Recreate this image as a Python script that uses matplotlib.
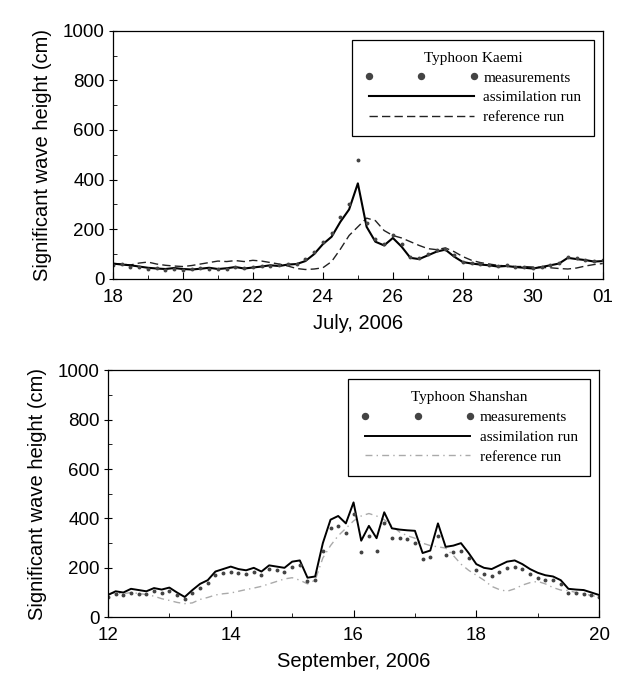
# %% imports

import numpy as np
import matplotlib
matplotlib.use('Agg')
import matplotlib.pyplot as plt
from matplotlib.ticker import MultipleLocator, FixedLocator

# %% data

# Typhoon Kaemi, July 2006, 6-hourly values from day 18 to 32 (= Aug 01)
kaemi_day = np.arange(18, 32.01, 0.25)
kaemi_assim = [62, 58, 55, 50,  45, 42, 40, 44,  40, 38, 41, 45,  40, 43, 48, 42,
               46, 50, 55, 52,  58, 60, 72, 100,  140, 170, 230, 280,
               385, 210, 150, 135,  165, 130, 85, 80,  95, 110, 118, 90,
               68, 62, 58, 55,  50, 52, 48, 45,  42, 48, 55, 62,  85, 80, 76, 70,  72]
kaemi_ref = [62, 60, 56, 64,  68, 60, 55, 52,  50, 54, 60, 66,  72, 70, 74, 70,
             75, 72, 66, 60,  52, 42, 38, 40,  45, 70, 120, 175,
             210, 245, 235, 195,  175, 165, 150, 135,  122, 118, 125, 110,
             90, 75, 66, 60,  55, 52, 50, 50,  48, 46, 45, 42,  40, 44, 52, 58,  62]
kaemi_meas = [55, 60, 50, 48,  42, 45, 38, 42,  38, 40, 44, 42,  42, 40, 50, 45,
              48, 52, 52, 55,  60, 62, 80, 110,  150, 185, 250, 300,
              480, 225, 160, 140,  175, 140, 90, 85,  100, 115, 122, 95,
              70, 65, 60, 58,  52, 55, 50, 48,  45, 50, 58, 65,  90, 85, 78, 72,  75]
kaemi_ticks = [18, 20, 22, 24, 26, 28, 30, 32]
kaemi_labels = ['18', '20', '22', '24', '26', '28', '30', '01']

# Typhoon Shanshan, September 2006, 3-hourly values from day 12 to 20
shan_day = np.arange(12, 20.001, 0.125)
shan_assim = [90, 105, 100, 115, 110, 105, 118, 112,
              120, 100, 82, 110, 135, 150, 185, 195,
              205, 195, 190, 200, 185, 210, 205, 200,
              225, 230, 160, 165, 300, 395, 410, 380,
              465, 310, 370, 320, 425, 360, 355, 352,
              350, 260, 270, 380, 285, 290, 300, 260,
              215, 200, 195, 210, 225, 230, 215, 195,
              180, 170, 165, 150, 115, 112, 110, 100,
              90]
shan_ref = [95, 98, 95, 100, 96, 92, 85, 75,
            68, 60, 55, 58, 72, 80, 90, 95,
            98, 105, 112, 118, 125, 135, 145, 155,
            160, 150, 135, 150, 240, 290, 330, 360,
            390, 410, 420, 410, 395, 370, 345, 330,
            320, 300, 290, 285, 280, 250, 215, 190,
            170, 150, 125, 112, 105, 115, 130, 140,
            145, 135, 120, 110, 108, 100, 95, 88,
            82]
shan_meas = [80, 95, 90, 100, 95, 92, 105, 100,
             108, 90, 75, 100, 120, 140, 170, 180,
             185, 180, 175, 185, 170, 195, 190, 185,
             205, 210, 145, 150, 270, 360, 370, 340,
             420, 265, 330, 270, 380, 320, 320, 315,
             300, 235, 245, 330, 250, 265, 270, 240,
             190, 175, 165, 185, 200, 205, 195, 175,
             160, 150, 150, 135, 100, 100, 95, 88,
             80]
shan_ticks = [12, 14, 16, 18, 20]

# %% style

plt.rcParams['font.family'] = 'Liberation Sans'
SERIF = 'Liberation Serif'

fig = plt.figure(figsize=(6.17, 6.82), dpi=100)
ax1 = fig.add_axes([0.183, 0.591, 0.794, 0.364])
ax2 = fig.add_axes([0.175, 0.095, 0.796, 0.362])


def style_axis(ax, xlim):
    ax.set_xlim(*xlim)
    ax.set_ylim(0, 1000)
    ax.yaxis.set_major_locator(MultipleLocator(200))
    ax.yaxis.set_minor_locator(MultipleLocator(100))
    ax.xaxis.set_minor_locator(MultipleLocator(1))
    ax.tick_params(axis='y', which='major', direction='inout', length=6, labelsize=13.5, pad=3)
    ax.tick_params(axis='y', which='minor', direction='in', length=3)
    ax.tick_params(axis='x', which='major', direction='in', length=5, labelsize=13.5, pad=7)
    ax.tick_params(axis='x', which='minor', direction='in', length=3)
    for s in ax.spines.values():
        s.set_linewidth(0.9)
    ax.set_ylabel('Significant wave height (cm)', fontsize=14.5, labelpad=8)


def add_legend(ax, title):
    # order: measurements, assimilation, reference
    h, l = ax.get_legend_handles_labels()
    order = [2, 1, 0]
    leg = ax.legend([h[i] for i in order], [l[i] for i in order], loc='upper right',
                    bbox_to_anchor=(0.997, 0.995), title=title,
                    prop={'family': SERIF, 'size': 11},
                    title_fontproperties={'family': SERIF, 'size': 11},
                    frameon=True, fancybox=False, framealpha=1, edgecolor='black',
                    numpoints=3, handlelength=7.5, handletextpad=0.3,
                    labelspacing=0.4, borderpad=0.8, markerscale=2.4)
    leg.get_frame().set_linewidth(0.9)


# %% top panel: Kaemi

ax1.plot(kaemi_day, kaemi_ref, color='#222222', lw=1.0, ls=(0, (6, 3)), label='reference run')
ax1.plot(kaemi_day, kaemi_assim, color='black', lw=1.5, label='assimilation run')
ax1.plot(kaemi_day, kaemi_meas, ls='none', marker='o', ms=1.8, color='#444444', label='measurements')
style_axis(ax1, (18, 32))
ax1.xaxis.set_major_locator(FixedLocator(kaemi_ticks))
ax1.set_xticklabels(kaemi_labels)
ax1.set_xlabel('July, 2006', fontsize=14.5, labelpad=6)
add_legend(ax1, 'Typhoon Kaemi')

# %% bottom panel: Shanshan

ax2.plot(shan_day, shan_ref, color='#aaaaaa', lw=1.0, ls=(0, (5, 3, 1, 3)), label='reference run')
ax2.plot(shan_day, shan_assim, color='black', lw=1.4, label='assimilation run')
ax2.plot(shan_day, shan_meas, ls='none', marker='o', ms=1.8, color='#444444', label='measurements')
style_axis(ax2, (12, 20))
ax2.xaxis.set_major_locator(FixedLocator(shan_ticks))
ax2.set_xlabel('September, 2006', fontsize=14.5, labelpad=6)
add_legend(ax2, 'Typhoon Shanshan')

fig.align_ylabels([ax1, ax2])
fig.savefig('out.png', dpi=100)
